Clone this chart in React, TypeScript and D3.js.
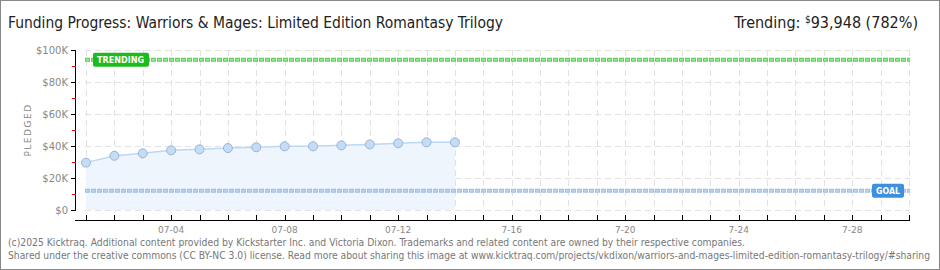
import * as d3 from "d3";
import { useEffect } from "react";

const W = 940;
const H = 270;

const TITLE = "Funding Progress: Warriors & Mages: Limited Edition Romantasy Trilogy";
const FOOTER = [
  "(c)2025 Kicktraq. Additional content provided by Kickstarter Inc. and Victoria Dixon. Trademarks and related content are owned by their respective companies.",
  "Shared under the creative commons (CC BY-NC 3.0) license. Read more about sharing this image at www.kicktraq.com/projects/vkdixon/warriors-and-mages-limited-edition-romantasy-trilogy/#sharing",
];
const footerWidths = [737, 922];

// daily pledged totals, 2025-07-01 .. 2025-07-14
const days = [1, 2, 3, 4, 5, 6, 7, 8, 9, 10, 11, 12, 13, 14];
const pledged = [29600, 33900, 35400, 37300, 37900, 38700, 39200, 39800, 39800, 40400, 41000, 41700, 42300, 42300];

const goal = 12014;
const trending = 93948;

const yTicks = [0, 20000, 40000, 60000, 80000, 100000];
const yTickLabels = ["$0", "$20K", "$40K", "$60K", "$80K", "$100K"];
const yMinor = [10000, 30000, 50000, 70000, 90000];
const xLabelDays = [4, 8, 12, 16, 20, 24, 28];
const xLabels = ["07-04", "07-08", "07-12", "7-16", "7-20", "7-24", "7-28"];

const day = (d: number) => new Date(2025, 6, d);

export default function App() {
  useEffect(() => {
    document.body.style.margin = "0";
  }, []);

  const x = d3.scaleTime().domain([day(1), day(30)]).range([86, 909]);
  const y = d3.scaleLinear().domain([0, 100000]).range([210, 50]);

  const pts = days.map((d, i) => [x(day(d)), y(pledged[i])] as [number, number]);
  const line = d3.line<[number, number]>().x((d) => d[0]).y((d) => d[1]);
  const area = d3
    .area<[number, number]>()
    .x((d) => d[0])
    .y0(y(0))
    .y1((d) => d[1]);

  const allDays = d3.timeDay.range(day(1), day(31));
  const pix = "'DejaVu Sans', sans-serif";
  const narrow = "'DejaVu Sans Condensed', 'DejaVu Sans', sans-serif";

  const yT = y(trending);
  const yG = y(goal);

  return (
    <svg width={W} height={H} style={{ display: "block" }}>
      <rect x={0} y={0} width={W} height={H} fill="#fff" stroke="#888" strokeWidth={2} />

      <text x={8} y={28} fontFamily={narrow} fontSize={16} fill="#222" textLength={495} lengthAdjust="spacingAndGlyphs">
        {TITLE}
      </text>
      <text x={918} y={28} fontFamily={narrow} fontSize={16} fill="#222" textAnchor="end">
        Trending:{" "}
        <tspan fontSize={10} dy={-5}>$</tspan>
        <tspan dy={5}>93,948 (782%)</tspan>
      </text>

      {/* grid */}
      <g stroke="#e2e2e2" strokeDasharray="6 4" strokeWidth={1}>
        {yTicks.map((t) => (
          <line key={t} x1={85} x2={910} y1={y(t) + 0.5} y2={y(t) + 0.5} />
        ))}
        {allDays.map((d, i) => (
          <line key={i} x1={Math.round(x(d)) + 0.5} x2={Math.round(x(d)) + 0.5} y1={50} y2={210} />
        ))}
      </g>

      {/* series */}
      <path d={area(pts) ?? ""} fill="#eef5fd" />
      <path d={line(pts) ?? ""} fill="none" stroke="#bcd8f5" strokeWidth={1.5} />

      {/* goal + trending lines */}
      <line x1={85} x2={910} y1={yG} y2={yG} stroke="#9dc0e8" strokeWidth={4} strokeDasharray="5 1" />
      <line x1={85} x2={910} y1={yG} y2={yG} stroke="#c3d9f2" strokeWidth={1.5} strokeDasharray="3 3" strokeDashoffset={-1} />
      <line x1={85} x2={910} y1={yT} y2={yT} stroke="#5fcf5f" strokeWidth={4} strokeDasharray="5 1" />
      <line x1={85} x2={910} y1={yT} y2={yT} stroke="#a6e6a6" strokeWidth={1.5} strokeDasharray="3 3" strokeDashoffset={-1} />

      {pts.map((p, i) => (
        <circle key={i} cx={p[0]} cy={p[1]} r={4.5} fill="#c5dcf5" stroke="#98b4d6" strokeWidth={1} />
      ))}

      {/* labels on lines */}
      <rect x={93} y={yT - 7} width={56} height={14} rx={2} fill="#1dbb1d" />
      <text x={97} y={yT + 3.5} fontFamily={pix} fontSize={9} fontWeight="bold" fill="#fff" textLength={47} lengthAdjust="spacingAndGlyphs">
        TRENDING
      </text>
      <rect x={872} y={yG - 7} width={32} height={14} rx={2} fill="#3f8fdf" />
      <text x={876} y={yG + 3.5} fontFamily={pix} fontSize={9} fontWeight="bold" fill="#fff" textLength={24} lengthAdjust="spacingAndGlyphs">
        GOAL
      </text>

      {/* y axis */}
      <line x1={75.5} x2={75.5} y1={50} y2={210} stroke="#000" strokeWidth={1} />
      {yTicks.map((t, i) => (
        <g key={t}>
          <line x1={71} x2={76} y1={y(t) + 0.5} y2={y(t) + 0.5} stroke="#000" />
          <text x={68} y={y(t) + 4} textAnchor="end" fontFamily={pix} fontSize={10} fill="#888">
            {yTickLabels[i]}
          </text>
        </g>
      ))}
      {yMinor.map((t) => (
        <line key={t} x1={72} x2={76} y1={y(t) + 0.5} y2={y(t) + 0.5} stroke="#e00" />
      ))}
      <text
        transform="translate(31,130) rotate(-90)"
        textAnchor="middle"
        fontFamily={pix}
        fontSize={9}
        fill="#888"
        letterSpacing={1.5}
      >
        PLEDGED
      </text>

      {/* x axis */}
      <line x1={75} x2={910} y1={220.5} y2={220.5} stroke="#000" />
      {allDays.map((d, i) => (
        <line key={i} x1={Math.round(x(d)) + 0.5} x2={Math.round(x(d)) + 0.5} y1={215} y2={221} stroke="#000" />
      ))}
      {xLabelDays.map((d, i) => (
        <text key={d} x={x(day(d))} y={233} textAnchor="middle" fontFamily={pix} fontSize={9} fill="#888">
          {xLabels[i]}
        </text>
      ))}

      {FOOTER.map((t, i) => (
        <text
          key={i}
          x={8}
          y={246 + i * 13}
          fontFamily={narrow}
          fontSize={10}
          fill="#777"
          textLength={footerWidths[i]}
          lengthAdjust="spacingAndGlyphs"
        >
          {t}
        </text>
      ))}
    </svg>
  );
}
